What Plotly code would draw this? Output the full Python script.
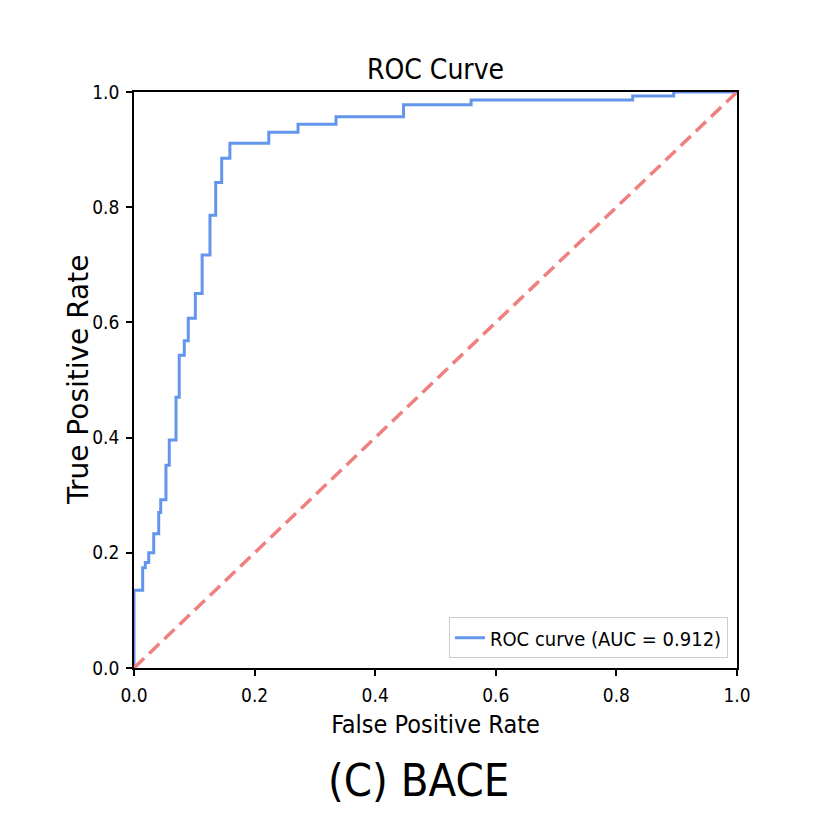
import plotly.graph_objects as go

# ROC curve corner points
fpr = [0.0, 0.0, 0.0144, 0.0187, 0.0244, 0.0327, 0.041, 0.0443, 0.053, 0.0585,
       0.0697, 0.075, 0.0834, 0.090, 0.1017, 0.113, 0.126, 0.1355, 0.1454, 0.159,
       0.2235, 0.272, 0.335, 0.447, 0.559, 0.827, 0.895, 1.0]
tpr = [0.0, 0.135, 0.174, 0.183, 0.200, 0.233, 0.270, 0.292, 0.352, 0.396,
       0.470, 0.543, 0.568, 0.607, 0.650, 0.717, 0.786, 0.843, 0.885, 0.911,
       0.930, 0.944, 0.957, 0.978, 0.986, 0.993, 1.0, 1.0]
auc_value = 0.912
chance_x = [0, 1]
chance_y = [0, 1]
tick_vals = [0.0, 0.2, 0.4, 0.6, 0.8, 1.0]
tick_text = ["0.0", "0.2", "0.4", "0.6", "0.8", "1.0"]

FONT = "DejaVu Sans Condensed"

fig = go.Figure()
fig.add_trace(go.Scatter(
    x=fpr, y=tpr, mode="lines", line=dict(color="#6495ED", width=3, shape="hv"),
    name=f"ROC curve (AUC = {auc_value:.3f})", showlegend=True,
))
fig.add_trace(go.Scatter(
    x=chance_x, y=chance_y, mode="lines",
    line=dict(color="#F08080", width=3.5, dash="14px,7px"),
    showlegend=False, hoverinfo="skip",
))

axis_common = dict(
    range=[0, 1], autorange=False, showgrid=False, zeroline=False,
    showline=True, linecolor="black", linewidth=1.5, mirror=True,
    ticks="outside", ticklen=6, tickwidth=1.5, tickcolor="black",
    tickvals=tick_vals, ticktext=tick_text,
    tickfont=dict(family=FONT, size=19, color="black"),
)

fig.update_layout(
    width=830, height=830,
    margin=dict(l=126, r=101, t=84, b=170),
    paper_bgcolor="white", plot_bgcolor="white",
    title=dict(text="ROC Curve", x=(434.5 - 7) / 830, xanchor="center",
               y=1 - 61 / 830, yanchor="middle",
               font=dict(family=FONT, size=28, color="black")),
    xaxis=dict(**axis_common, ticklabelstandoff=3,
               title=dict(text="False Positive Rate", standoff=11,
                          font=dict(family=FONT, size=25, color="black"))),
    yaxis=dict(**axis_common, ticklabelstandoff=3),
    legend=dict(x=0.985, y=0.017, xanchor="right", yanchor="bottom",
                bgcolor="rgba(255,255,255,0.8)", bordercolor="#cccccc", borderwidth=1,
                font=dict(family=FONT, size=20, color="black")),
    annotations=[
        dict(text="True Positive Rate", xref="paper", yref="paper",
             x=(77 - 133) / 603, y=0.5, xanchor="center", yanchor="middle",
             textangle=-90, showarrow=False,
             font=dict(family="DejaVu Sans", size=28, color="black")),
        dict(text="(C) BACE", xref="paper", yref="paper",
             x=0.472, y=(667 - 779) / 576, xanchor="center", yanchor="middle",
             showarrow=False, font=dict(family=FONT, size=45, color="black")),
    ],
)

fig.write_html("out.html")
